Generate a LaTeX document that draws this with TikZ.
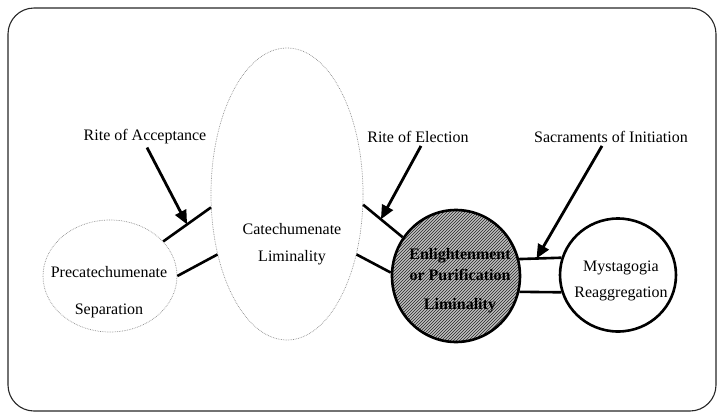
\documentclass[tikz,border=0pt]{standalone}
\usepackage{fontspec}
\setmainfont{Liberation Serif}
\usetikzlibrary{shapes.geometric,arrows.meta,patterns,calc}
\begin{document}
\begin{tikzpicture}[x=1pt,y=-1pt,
  frame/.style={draw=black!85, line width=1.1pt, rounded corners=26pt},
  softstage/.style={ellipse, draw=black!45, densely dotted, line width=0.7pt, inner sep=0pt},
  hardstage/.style={ellipse, draw=black, line width=2.6pt, inner sep=0pt},
  hatched/.style={preaction={fill=black!25}, pattern=north east lines, pattern color=black!85},
  link/.style={line width=2.6pt},
  pointer/.style={line width=2.8pt, -{Triangle[length=14pt,width=12pt]}},
  lbl/.style={font=\fontsize{16}{19}\selectfont, inner sep=0pt, align=center},
  boldlbl/.style={font=\bfseries\fontsize{16}{21}\selectfont, inner sep=0pt, align=center}
]
\useasboundingbox (0,0) rectangle (721,413);
\draw[frame] (8,8) rectangle (716,411);

% stages
\node[softstage, minimum width=134pt, minimum height=112pt] (pre) at (110,276) {};
\node[softstage, minimum width=152pt, minimum height=292pt] (cat) at (287,194) {};
\node[hardstage, hatched, minimum width=128pt, minimum height=132pt] (enl) at (456,276) {};
\node[hardstage, fill=white, minimum width=116pt, minimum height=113pt] (mys) at (618,275) {};

% stage texts
\node[lbl, font=\fontsize{16}{37}\selectfont] (pretxt) at (109,292) {Precatechumenate\\Separation};
\node[lbl, font=\fontsize{16}{27}\selectfont] (cattxt) at (292,244) {Catechumenate\\Liminality};
\node[boldlbl] (enltxt) at (460,281) {Enlightenment\\or Purification\\[8pt]Liminality};
\node[lbl, font=\fontsize{16}{26}\selectfont] (mystxt) at (621,281) {Mystagogia\\Reaggregation};

% rite labels
\node[lbl] (acc) at (145,137) {Rite of Acceptance};
\node[lbl] (ele) at (418,137) {Rite of Election};
\node[lbl] (sac) at (611,137) {Sacraments of Initiation};

% links between stages
\draw[link] (pre.33) -- coordinate[pos=0.5] (m1) (cat.190);
\draw[link] (pre.east) -- (cat.221.5);
\draw[link] (cat.352) -- coordinate[pos=0.45] (m2) (enl.144);
\draw[link] (cat.319) -- (enl.177);
\draw[link] (enl.15.8) -- coordinate[pos=0.41] (m3) (mys.163.5);
\draw[link] (enl.-14) -- (mys.197);

% pointers
\draw[pointer] ([xshift=2pt,yshift=-3pt]acc.south) -- (m1);
\draw[pointer] ([xshift=3pt,yshift=-3pt]ele.south) -- (m2);
\draw[pointer] ([xshift=-9pt,yshift=-3pt]sac.south) -- (m3);
\end{tikzpicture}
\end{document}
